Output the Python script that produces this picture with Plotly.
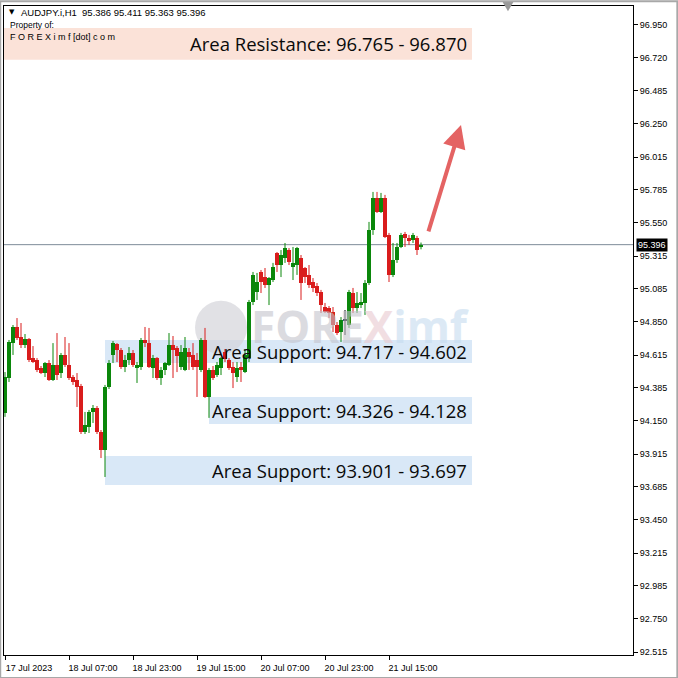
import plotly.graph_objects as go

# ---------------- data (AUDJPY.i, H1, from 17 Jul 2023 15:00) ----------------
opens = [94.206, 94.453, 94.700, 94.814, 94.743, 94.686, 94.729, 94.594, 94.580, 94.524,
         94.488, 94.559, 94.439, 94.545, 94.488, 94.616, 94.545, 94.460, 94.439, 94.396,
         94.071, 94.107, 94.213, 94.241, 94.071, 93.944, 94.389, 94.616, 94.693, 94.651,
         94.531, 94.580, 94.630, 94.524, 94.531, 94.722, 94.700, 94.524, 94.594, 94.453,
         94.510, 94.545, 94.686, 94.665, 94.531, 94.510, 94.637, 94.616, 94.580, 94.510,
         94.722, 94.319, 94.510, 94.474, 94.524, 94.637, 94.580, 94.531, 94.460, 94.531,
         94.495, 94.594, 94.991, 95.061, 95.203, 95.167, 95.111, 95.146, 95.337, 95.252,
         95.302, 95.358, 95.238, 95.252, 95.302, 95.231, 95.182, 95.132, 95.104, 95.061,
         94.955, 94.948, 94.920, 94.828, 94.778, 94.863, 94.828, 95.054, 94.948, 94.969,
         94.984, 95.125, 95.500, 95.726, 95.627, 95.726, 95.465, 95.182, 95.288, 95.380,
         95.471, 95.443, 95.429, 95.443, 95.386]
highs = [94.495, 94.722, 94.828, 94.877, 94.842, 94.764, 94.736, 94.679, 94.594, 94.538,
         94.566, 94.580, 94.700, 94.771, 94.630, 94.743, 94.700, 94.474, 94.488, 94.411,
         94.213, 94.227, 94.262, 94.255, 94.085, 94.404, 94.580, 94.715, 94.700, 94.665,
         94.616, 94.672, 94.651, 94.566, 94.736, 94.814, 94.807, 94.616, 94.601, 94.531,
         94.566, 94.771, 94.750, 94.679, 94.686, 94.743, 94.665, 94.700, 94.630, 94.736,
         94.807, 94.524, 94.538, 94.566, 94.601, 94.658, 94.594, 94.566, 94.566, 94.566,
         94.658, 95.005, 95.203, 95.196, 95.217, 95.231, 95.167, 95.267, 95.344, 95.358,
         95.408, 95.372, 95.380, 95.380, 95.323, 95.238, 95.252, 95.160, 95.125, 95.076,
         94.984, 94.962, 94.955, 94.849, 94.884, 94.934, 95.076, 95.090, 95.061, 95.054,
         95.146, 95.557, 95.769, 95.769, 95.762, 95.748, 95.479, 95.408, 95.408, 95.479,
         95.486, 95.465, 95.479, 95.458, 95.411]
lows = [94.178, 94.425, 94.616, 94.722, 94.665, 94.665, 94.566, 94.559, 94.495, 94.481,
        94.460, 94.432, 94.432, 94.439, 94.453, 94.531, 94.439, 94.404, 94.248, 94.057,
        94.057, 94.064, 94.135, 94.057, 93.887, 93.753, 94.375, 94.559, 94.566, 94.517,
        94.495, 94.545, 94.531, 94.418, 94.510, 94.672, 94.524, 94.453, 94.439, 94.404,
        94.474, 94.538, 94.453, 94.495, 94.510, 94.502, 94.510, 94.510, 94.319, 94.495,
        94.312, 94.171, 94.439, 94.460, 94.474, 94.566, 94.510, 94.382, 94.425, 94.425,
        94.488, 94.566, 94.969, 95.005, 95.054, 95.090, 94.969, 95.132, 95.203, 95.167,
        95.267, 95.252, 95.146, 95.182, 95.005, 95.125, 95.090, 95.061, 95.033, 94.913,
        94.913, 94.877, 94.778, 94.757, 94.708, 94.757, 94.807, 94.913, 94.913, 94.948,
        94.899, 95.111, 95.465, 95.620, 95.620, 95.443, 95.132, 95.167, 95.267, 95.372,
        95.380, 95.394, 95.408, 95.323, 95.363]
closes = [94.460, 94.708, 94.814, 94.736, 94.686, 94.729, 94.580, 94.566, 94.510, 94.488,
          94.559, 94.439, 94.545, 94.474, 94.616, 94.545, 94.453, 94.425, 94.389, 94.071,
          94.121, 94.213, 94.241, 94.071, 93.944, 94.389, 94.559, 94.700, 94.651, 94.531,
          94.580, 94.630, 94.545, 94.545, 94.722, 94.700, 94.531, 94.594, 94.453, 94.510,
          94.559, 94.686, 94.651, 94.609, 94.637, 94.665, 94.601, 94.531, 94.531, 94.722,
          94.319, 94.510, 94.453, 94.545, 94.594, 94.587, 94.524, 94.488, 94.524, 94.510,
          94.616, 94.991, 95.182, 95.132, 95.132, 95.111, 95.160, 95.238, 95.252, 95.323,
          95.372, 95.274, 95.267, 95.372, 95.125, 95.167, 95.111, 95.090, 95.054, 94.969,
          94.920, 94.913, 94.828, 94.771, 94.863, 94.863, 95.061, 94.948, 94.984, 94.991,
          95.125, 95.500, 95.726, 95.627, 95.726, 95.450, 95.182, 95.288, 95.380, 95.465,
          95.443, 95.429, 95.465, 95.358, 95.396]

time_tick_bars = [0, 16, 32, 48, 64, 80, 96]
time_tick_labels = ["17 Jul 2023", "18 Jul 07:00", "18 Jul 23:00", "19 Jul 15:00",
                    "20 Jul 07:00", "20 Jul 23:00", "21 Jul 15:00"]
price_ticks = [96.950, 96.720, 96.485, 96.250, 96.015, 95.785, 95.550, 95.315, 95.085,
               94.850, 94.615, 94.385, 94.150, 93.915, 93.685, 93.450, 93.215, 92.985,
               92.750, 92.515]
last_price = 95.396
header_text = "AUDJPY.i,H1  95.386 95.411 95.363 95.396"

zone_labels = ["Area Resistance: 96.765 - 96.870", "Area Support: 94.717 - 94.602",
               "Area Support: 94.326 - 94.128", "Area Support: 93.901 - 93.697"]
zone_start = [-0.25, 25, 51, 25]
zone_end = [116.75, 116.75, 116.75, 116.75]
zone_top = [96.929, 94.722, 94.319, 93.901]
zone_bottom = [96.703, 94.559, 94.128, 93.696]
zone_colors = ["#fbe2d8", "#d9e8f7", "#d9e8f7", "#d9e8f7"]

arrow_tail = (105.75, 95.479)
arrow_head = (114.0, 96.243)

# ---------------- figure ----------------
GREEN = "#0b870b"
RED = "#d91c1c"
BLACK = "#000000"

idx = list(range(len(opens)))
colors = []
for o, c in zip(opens, closes):
    colors.append(GREEN if c > o else (RED if c < o else BLACK))

fig = go.Figure()

# wicks
for col in (GREEN, RED, BLACK):
    xs, ys = [], []
    for i in idx:
        if colors[i] == col:
            xs += [i, i, None]
            ys += [lows[i], highs[i], None]
    if xs:
        fig.add_trace(go.Scatter(x=xs, y=ys, mode="lines",
                                 line=dict(color=col, width=1),
                                 hoverinfo="skip", showlegend=False))

# bodies
bases = [min(o, c) for o, c in zip(opens, closes)]
heights = [max(abs(c - o), 0.004) for o, c in zip(opens, closes)]
fig.add_trace(go.Bar(x=idx, y=heights, base=bases, width=0.78,
                     marker=dict(color=colors, line=dict(width=0)),
                     hoverinfo="skip", showlegend=False))

shapes = []
annotations = []

# zone rectangles + labels
for lab, x0, x1, t, b, col in zip(zone_labels, zone_start, zone_end, zone_top, zone_bottom, zone_colors):
    shapes.append(dict(type="rect", xref="x", yref="y", x0=x0, x1=x1, y0=b, y1=t,
                       fillcolor=col, line=dict(width=0), layer="below"))
    annotations.append(dict(x=x1 - 0.75, y=(t + b) / 2, xref="x", yref="y", text=lab,
                            showarrow=False, xanchor="right", yanchor="middle",
                            font=dict(family="Open Sans", size=18.5, color="#0a0a0a")))

# watermark
shapes.append(dict(type="circle", xref="x", yref="y", x0=47.5, x1=60.5, y0=94.62, y1=95.0,
                   fillcolor="#d4d4da", opacity=0.7, line=dict(width=0), layer="below"))
annotations.append(dict(x=61, y=94.82, xref="x", yref="y",
                        text="<b><span style='color:#c4c4cc'>FORE</span><span style='color:#e9c9cf'>X</span><span style='color:#c6dcf0'>imf</span></b>",
                        showarrow=False, xanchor="left", yanchor="middle", opacity=0.6,
                        font=dict(family="Open Sans", size=44)))

# current price line
shapes.append(dict(type="line", xref="paper", yref="y", x0=0, x1=1, y0=last_price, y1=last_price,
                   line=dict(color="#7d8b98", width=1), layer="below"))

# chart-shift marker (top)
shapes.append(dict(type="path", xref="x", yref="paper",
                   path="M 124.4,1.006 L 127.1,1.006 L 125.75,0.992 Z",
                   fillcolor="#9a9a9a", line=dict(width=0)))

# arrow
annotations.append(dict(x=arrow_head[0], y=arrow_head[1], ax=arrow_tail[0], ay=arrow_tail[1],
                        xref="x", yref="y", axref="x", ayref="y", text="", showarrow=True,
                        arrowhead=2, arrowsize=1.15, arrowwidth=4, arrowcolor="rgba(224,72,72,0.85)"))

# last price tag
annotations.append(dict(x=1, y=last_price, xref="paper", yref="y", text=f"{last_price:.3f}",
                        showarrow=False, xanchor="left", yanchor="middle", xshift=3,
                        bgcolor="#000000", borderpad=1,
                        font=dict(family="Liberation Sans", size=9, color="#ffffff")))

# header texts
annotations.append(dict(x=0, y=1, xref="paper", yref="paper", text="\u25bc",
                        showarrow=False, xanchor="left", yanchor="middle", xshift=3, yshift=-6,
                        font=dict(family="DejaVu Sans", size=7, color="#000000")))
annotations.append(dict(x=0, y=1, xref="paper", yref="paper", text=header_text,
                        showarrow=False, xanchor="left", yanchor="middle", xshift=15, yshift=-6,
                        font=dict(family="Liberation Sans", size=9.5, color="#000000")))
annotations.append(dict(x=0, y=1, xref="paper", yref="paper", text="Property of:",
                        showarrow=False, xanchor="left", yanchor="middle", xshift=4, yshift=-19,
                        font=dict(family="Liberation Sans", size=8.5, color="#000000")))
annotations.append(dict(x=0, y=1, xref="paper", yref="paper", text="F O R E X i m f [dot] c o m",
                        showarrow=False, xanchor="left", yanchor="middle", xshift=4, yshift=-31,
                        font=dict(family="Liberation Sans", size=9, color="#000000")))

# outer frame (window border)
shapes.append(dict(type="rect", xref="paper", yref="paper", x0=-0.006, x1=1.0705, y0=-0.0355, y1=1.0075,
                   line=dict(color="#a8a8a8", width=2), fillcolor="rgba(0,0,0,0)"))

fig.update_layout(
    width=678, height=678,
    margin=dict(l=4, r=45, t=6, b=23, pad=0),
    paper_bgcolor="#ffffff", plot_bgcolor="#ffffff",
    showlegend=False, bargap=0,
    shapes=shapes, annotations=annotations,
    xaxis=dict(range=[-0.25, 157.0], showgrid=False, zeroline=False,
               showline=True, linecolor="#000000", linewidth=1, mirror=True,
               ticks="outside", ticklen=4, tickcolor="#000000",
               tickvals=time_tick_bars, ticktext=time_tick_labels,
               ticklabelshift=24, ticklabelstandoff=0,
               tickfont=dict(family="Liberation Sans", size=9, color="#000000")),
    yaxis=dict(range=[92.494, 97.084], side="right", showgrid=False, zeroline=False,
               showline=True, linecolor="#000000", linewidth=1, mirror=True,
               ticks="outside", ticklen=4, tickcolor="#000000",
               tickvals=price_ticks, ticktext=[f"{v:.3f}" for v in price_ticks],
               tickfont=dict(family="Liberation Sans", size=9, color="#000000")),
)

fig.write_html("out.html", config={"displayModeBar": False},
               post_script="document.body.style.margin='0';")
